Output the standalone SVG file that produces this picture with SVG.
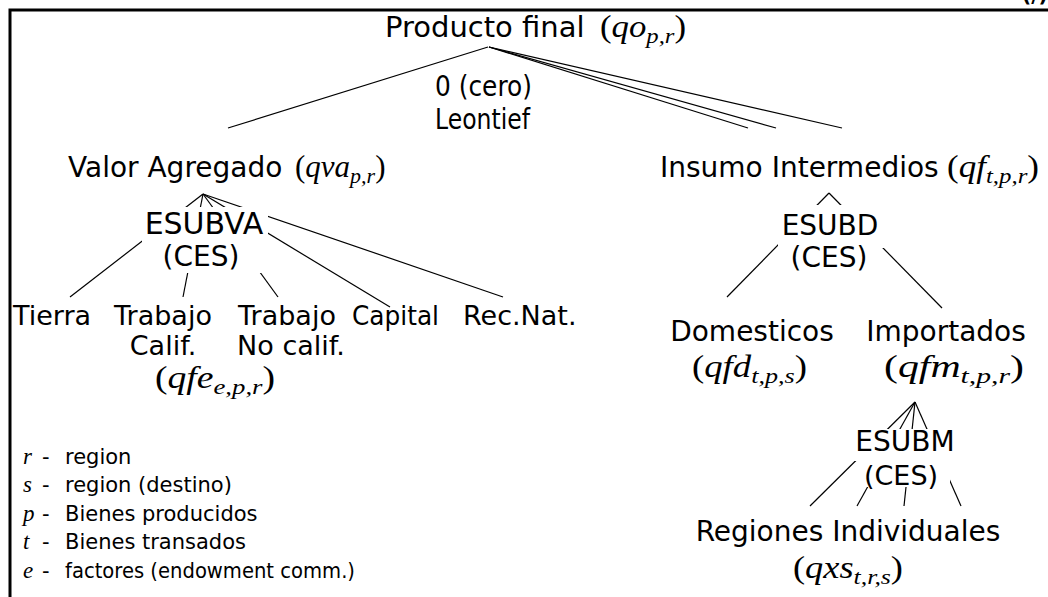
<svg xmlns="http://www.w3.org/2000/svg" width="1048" height="597" viewBox="0 0 1048 597">
<style>
.t{font-family:"DejaVu Sans",sans-serif;font-size:28px;fill:#000}
.lf{font-size:27px}
.m{font-family:"Liberation Serif",serif;font-size:31px;fill:#000}
.i{font-style:italic}
.s{font-size:22px;font-style:italic}
.lg{font-family:"DejaVu Sans",sans-serif;font-size:21px;fill:#000}
.lv{font-family:"Liberation Serif",serif;font-style:italic;font-size:23px}
.bg{fill:#fff}
#edges line{stroke:#000;stroke-width:1.2}
</style>
<rect width="1048" height="597" fill="#fff"/>
<path d="M10,597 V10 H1048" fill="none" stroke="#000" stroke-width="3"/>
<text class="t" x="1022" y="2" style="font-weight:bold;font-size:20px">(/)</text>
<g id="edges">
<line x1="488" y1="47" x2="228" y2="128"/>
<line x1="489" y1="47" x2="748" y2="128"/>
<line x1="489" y1="47" x2="776" y2="128"/>
<line x1="489" y1="47" x2="842" y2="128"/>
<line x1="203" y1="194" x2="70" y2="297"/>
<line x1="203" y1="194" x2="183" y2="297"/>
<line x1="203" y1="194" x2="278" y2="297"/>
<line x1="203" y1="194" x2="390" y2="307"/>
<line x1="203" y1="194" x2="503" y2="297"/>
<line x1="829" y1="193" x2="727" y2="297"/>
<line x1="829" y1="193" x2="942" y2="308"/>
<line x1="915" y1="402" x2="810" y2="506"/>
<line x1="915" y1="402" x2="857" y2="506"/>
<line x1="915" y1="402" x2="904" y2="506"/>
<line x1="915" y1="402" x2="961" y2="506"/>
</g>
<g id="n-producto">
<text class="t" x="385" y="37" style="font-size:29px">Producto final</text>
<text class="m" x="600" y="37" textLength="86" lengthAdjust="spacingAndGlyphs">(<tspan class="i">qo</tspan><tspan class="s" dy="6">p,r</tspan><tspan dy="-6">)</tspan></text>
<text class="t" x="435" y="96" textLength="97" lengthAdjust="spacingAndGlyphs">0 (cero)</text>
<text class="t" x="435" y="129" textLength="95" lengthAdjust="spacingAndGlyphs">Leontief</text>
</g>
<g id="n-valor">
<text class="t" x="68" y="177">Valor Agregado</text>
<text class="m" x="295" y="177">(<tspan class="i">qva</tspan><tspan class="s" dy="6">p,r</tspan><tspan dy="-6">)</tspan></text>
</g>
<g id="n-esubva">
<rect class="bg" x="142" y="207" width="126" height="35"/>
<rect class="bg" x="150" y="242" width="112" height="31"/>
<text class="t" x="204" y="234" text-anchor="middle" style="font-size:30px">ESUBVA</text>
<text class="t" x="201" y="266" text-anchor="middle">(CES)</text>
</g>
<g id="n-tierra"><text class="t lf" x="13" y="325">Tierra</text></g>
<g id="n-calif"><text class="t lf" x="163" y="325" text-anchor="middle">Trabajo</text><text class="t lf" x="163" y="355" text-anchor="middle">Calif.</text></g>
<g id="n-nocalif"><text class="t lf" x="287" y="325" text-anchor="middle">Trabajo</text><text class="t lf" x="291" y="355" text-anchor="middle">No calif.</text></g>
<g id="n-capital"><text class="t lf" x="352" y="325" textLength="87" lengthAdjust="spacingAndGlyphs">Capital</text></g>
<g id="n-recnat"><text class="t lf" x="463" y="325">Rec.Nat.</text></g>
<g id="n-qfe"><text class="m" x="155" y="388" textLength="120" lengthAdjust="spacingAndGlyphs">(<tspan class="i">qfe</tspan><tspan class="s" dy="6">e,p,r</tspan><tspan dy="-6">)</tspan></text></g>
<g id="n-insumo">
<text class="t" x="660" y="177">Insumo Intermedios</text>
<text class="m" x="947" y="177" textLength="92" lengthAdjust="spacingAndGlyphs">(<tspan class="i">qf</tspan><tspan class="s" dy="6">t,p,r</tspan><tspan dy="-6">)</tspan></text>
</g>
<g id="n-esubd">
<rect class="bg" x="778" y="205" width="108" height="43"/>
<text class="t" x="830" y="235" text-anchor="middle">ESUBD</text>
<text class="t" x="829" y="267" text-anchor="middle">(CES)</text>
</g>
<g id="n-domesticos">
<text class="t" x="752" y="341" text-anchor="middle">Domesticos</text>
<text class="m" x="692" y="377" textLength="115" lengthAdjust="spacingAndGlyphs">(<tspan class="i">qfd</tspan><tspan class="s" dy="6">t,p,s</tspan><tspan dy="-6">)</tspan></text>
</g>
<g id="n-importados">
<text class="t" x="946" y="341" text-anchor="middle">Importados</text>
<text class="m" x="884" y="377" textLength="140" lengthAdjust="spacingAndGlyphs">(<tspan class="i">qfm</tspan><tspan class="s" dy="6">t,p,r</tspan><tspan dy="-6">)</tspan></text>
</g>
<g id="n-esubm">
<rect class="bg" x="853" y="429" width="102" height="32"/>
<rect class="bg" x="862" y="461" width="88" height="26"/>
<text class="t" x="905" y="451" text-anchor="middle">ESUBM</text>
<text class="t" x="901" y="485" text-anchor="middle" style="font-size:27px">(CES)</text>
</g>
<g id="n-regiones">
<text class="t" x="848" y="541" text-anchor="middle">Regiones Individuales</text>
<text class="m" x="793" y="578" textLength="110" lengthAdjust="spacingAndGlyphs">(<tspan class="i">qxs</tspan><tspan class="s" dy="6">t,r,s</tspan><tspan dy="-6">)</tspan></text>
</g>
<g id="legend">
<text class="lg" y="464"><tspan class="lv" x="23">r</tspan><tspan x="42">-</tspan><tspan x="65">region</tspan></text>
<text class="lg" y="492"><tspan class="lv" x="23">s</tspan><tspan x="42">-</tspan><tspan x="65">region (destino)</tspan></text>
<text class="lg" y="521"><tspan class="lv" x="23">p</tspan><tspan x="42">-</tspan><tspan x="65">Bienes producidos</tspan></text>
<text class="lg" y="549"><tspan class="lv" x="23">t</tspan><tspan x="42">-</tspan><tspan x="65">Bienes transados</tspan></text>
<text class="lg" y="578"><tspan class="lv" x="23">e</tspan><tspan x="42">-</tspan><tspan x="65" textLength="290" lengthAdjust="spacingAndGlyphs">factores (endowment comm.)</tspan></text>
</g>
</svg>
